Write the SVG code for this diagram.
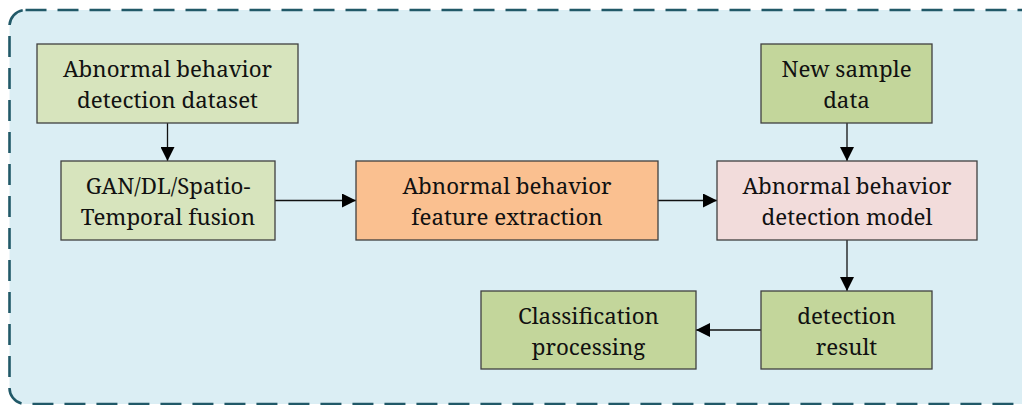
<svg xmlns="http://www.w3.org/2000/svg" width="1022" height="405" viewBox="0 0 1022 405">
<style>
.box{stroke:#404040;stroke-width:1.3}
.lt{fill:#d7e4bd}
.dk{fill:#c3d69b}
.t{font-size:22.3px;fill:#111;text-anchor:middle}
.c{stroke:#111;stroke-width:1.3;fill:none;marker-end:url(#ah)}
</style>
<defs>
<marker id="ah" markerUnits="userSpaceOnUse" markerWidth="14" markerHeight="14" viewBox="0 0 14 14" refX="14" refY="7" orient="auto">
<path d="M0,0 L14,7 L0,14 Z" fill="#000"/>
</marker>
</defs>
<rect x="0" y="0" width="1022" height="405" fill="#ffffff"/>
<rect id="frame" x="9.5" y="10" width="1040" height="394" rx="16" ry="16" fill="#dbeef4" stroke="#215968" stroke-width="2.6" stroke-dasharray="21 11"/>
<g id="connectors">
<line class="c" x1="167.5" y1="123" x2="167.5" y2="161"/>
<line class="c" x1="275" y1="200.5" x2="356" y2="200.5"/>
<line class="c" x1="658" y1="200.5" x2="717" y2="200.5"/>
<line class="c" x1="847" y1="123" x2="847" y2="161"/>
<line class="c" x1="847" y1="240" x2="847" y2="291"/>
<line class="c" x1="761" y1="330" x2="696" y2="330"/>
</g>
<g id="nodes" font-family="Noto Serif">
<g id="dataset">
<rect class="box lt" x="37" y="44" width="261" height="79"/>
<text class="t" x="167.5" y="76.5">Abnormal behavior</text>
<text class="t" x="167.5" y="107.5">detection dataset</text>
</g>
<g id="gan">
<rect class="box lt" x="61" y="161" width="214" height="79"/>
<text class="t" x="168" y="193.5">GAN/DL/Spatio-</text>
<text class="t" x="168" y="224.5">Temporal fusion</text>
</g>
<g id="feature">
<rect class="box" fill="#fac090" x="356" y="161" width="302" height="79"/>
<text class="t" x="507" y="193.5">Abnormal behavior</text>
<text class="t" x="507" y="224.5">feature extraction</text>
</g>
<g id="model">
<rect class="box" fill="#f2dcdb" x="717" y="161" width="260" height="79"/>
<text class="t" x="847" y="193.5">Abnormal behavior</text>
<text class="t" x="847" y="224.5">detection model</text>
</g>
<g id="newsample">
<rect class="box dk" x="761" y="44" width="171" height="79"/>
<text class="t" x="846.5" y="76.5">New sample</text>
<text class="t" x="846.5" y="107.5">data</text>
</g>
<g id="result">
<rect class="box dk" x="761" y="291" width="171" height="78"/>
<text class="t" x="846.5" y="323.5">detection</text>
<text class="t" x="846.5" y="354.5">result</text>
</g>
<g id="classification">
<rect class="box dk" x="481" y="291" width="215" height="78"/>
<text class="t" x="588.5" y="323.5">Classification</text>
<text class="t" x="588.5" y="354.5">processing</text>
</g>
</g>
</svg>
